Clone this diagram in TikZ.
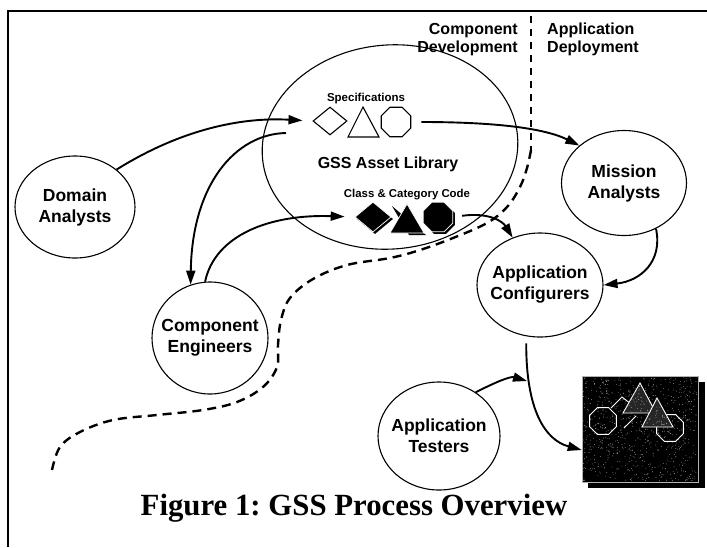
\documentclass[tikz,border=0pt]{standalone}
\usepackage{fontspec}
\setmainfont{Liberation Serif}
\setsansfont{Liberation Sans}
\usetikzlibrary{shapes.geometric,arrows.meta}
\frenchspacing
\begin{document}
\begin{tikzpicture}[x=1pt,y=-1pt,
  actor/.style={draw, ellipse, line width=1.1pt, inner sep=0pt},
  albl/.style={align=center, inner sep=0pt, font=\sffamily\bfseries\fontsize{17.5}{21}\selectfont},
  flow/.style={line width=1.9pt, -{Triangle[length=14pt,width=9pt]}},
  hollow/.style={draw, line width=1.1pt, inner sep=0pt},
  octa/.style={regular polygon, regular polygon sides=8, inner sep=0pt, minimum size=32pt},
  solid/.style={fill=black, draw=white, line width=0.7pt, inner sep=0pt},
  inner/.style={draw=white, line width=0.9pt, inner sep=0pt},
  phase/.style={align=#1, inner sep=0pt, font=\sffamily\bfseries\fontsize{16}{18}\selectfont}]
\useasboundingbox (0,0) rectangle (707,547);

% page frame
\draw[line width=2pt] (8,547) -- (8,11) -- (707,11);

% phase boundary
\draw[line width=1.4pt, dash pattern=on 7pt off 6pt] (531,16) -- (531,150);
\draw[line width=2.4pt, dash pattern=on 9pt off 6pt]
  plot[smooth, tension=0.6] coordinates {(531,150) (527,168) (520,187) (507,207) (487,223) (453,238) (420,250) (390,258) (347,265) (313,279) (290,298) (281,320) (278,345) (277,367) (263,387) (237,402) (203,410) (157,415) (113,420) (80,432) (60,447) (52,470)};

\node[phase=right, anchor=north east] (cdev) at (518,23) {Component\\Development};
\node[phase=left, anchor=north west] (adep) at (547,23) {Application\\Deployment};

% asset library
\node[actor, minimum width=256pt, minimum height=204pt, rotate=5] (lib) at (390,147) {};
\node[inner sep=0pt, font=\sffamily\bfseries\fontsize{11.5}{13}\selectfont, anchor=base] (spectxt) at (366,101) {Specifications};
\node[inner sep=0pt, font=\sffamily\bfseries\fontsize{16}{18}\selectfont, anchor=base] (libtxt) at (388,168) {GSS Asset Library};
\node[inner sep=0pt, font=\sffamily\bfseries\fontsize{11.4}{13}\selectfont, anchor=base] (codetxt) at (407,197) {Class \& Category Code};

% specification shapes
\node[hollow, diamond, minimum width=34pt, minimum height=28pt] (sdia) at (330,121) {};
\draw[line width=1.1pt] (348,137) -- (363,107) -- (379,137) -- cycle;
\node[hollow, octa] (soct) at (396,122) {};

% class & category code shapes, each with a bevelled lower edge
\node[diamond, fill=black, minimum width=36pt, minimum height=30pt, inner sep=0pt] at (375,219) {};
\node[solid, diamond, minimum width=36pt, minimum height=30pt] (cdia) at (373,217) {};
\fill (392,206) -- (409,235) -- (426,235) -- cycle;
\filldraw[fill=black, draw=white, line width=0.7pt] (390,233) -- (407,204) -- (424,233) -- cycle;
\node[octa, fill=black] at (440,219) {};
\node[solid, octa] (coct) at (438,217) {};

% actors
\node[actor, minimum width=120pt, minimum height=102pt] (dom) at (75,207) {};
\node[albl] at (dom) {Domain\\Analysts};
\node[actor, minimum width=116pt, minimum height=112pt] (eng) at (210,338) {};
\node[albl] at (eng) {Component\\Engineers};
\node[actor, minimum width=125pt, minimum height=105pt] (mis) at (624,183) {};
\node[albl] at (mis) {Mission\\Analysts};
\node[actor, minimum width=126pt, minimum height=104pt] (cfg) at (540,285) {};
\node[albl] at (cfg) {Application\\Configurers};
\node[actor, minimum width=122pt, minimum height=108pt] (tst) at (439,436) {};
\node[albl] at (tst) {Application\\Testers};

% deployed application
\fill (588,382) rectangle (705,488);
\node[fill=black, draw=gray!60, line width=0.6pt, minimum width=116pt, minimum height=106pt, inner sep=0pt] (app) at (640,429) {};
\node[inner, octa, minimum size=29pt, fill=black] (ro) at (670,428) {};
\node[inner, octa, minimum size=29pt, fill=black] (lo) at (603,421) {};
\draw[white, line width=0.9pt] (611,408) -- (622,397) -- (631,404);
\draw[white, line width=0.9pt] (624,428) -- (636,416);
\filldraw[fill=black!85, draw=white, line width=0.9pt] (623,413) -- (640,383) -- (656,413) -- cycle;
\filldraw[fill=black!85, draw=white, line width=0.9pt] (642,427) -- (657,398) -- (673,427) -- cycle;
\pgfmathsetseed{11}
\foreach \k in {1,...,800}{
  \fill[gray!55] ({583+114*rnd},{377+104*rnd}) circle (0.4pt);
}

% flows
\coordinate (libout) at (286,133);
\coordinate (join) at (527,381);
\draw[flow, shorten >=10pt] (dom.42) .. controls (180,130) and (240,117) .. (sdia.west);
\draw[flow] (libout) .. controls (235,134) and (192,185) .. (eng.110);
\draw[flow, shorten >=10pt] (eng.95) .. controls (215,235) and (270,214) .. (cdia.west);
\draw[flow, shorten <=10pt] (soct.east) .. controls (480,122) and (540,126) .. (mis.140);
\draw[flow, shorten <=9pt] (coct.east) .. controls (490,212) and (503,222) .. (cfg.120);
\draw[flow] (mis.-55) .. controls (663,262) and (640,281) .. (cfg.east);
\draw[flow, shorten <=7pt] (cfg.-105) .. controls (526,410) and (545,440) .. ([yshift=-21pt]app.west);
\draw[flow] (tst.50) .. controls (494,383) and (510,376) .. (join);

% caption
\node[anchor=base, inner sep=0pt, font=\bfseries\fontsize{30.8}{34}\selectfont] (cap) at (354,515) {Figure 1: GSS Process Overview};
\end{tikzpicture}
\end{document}
